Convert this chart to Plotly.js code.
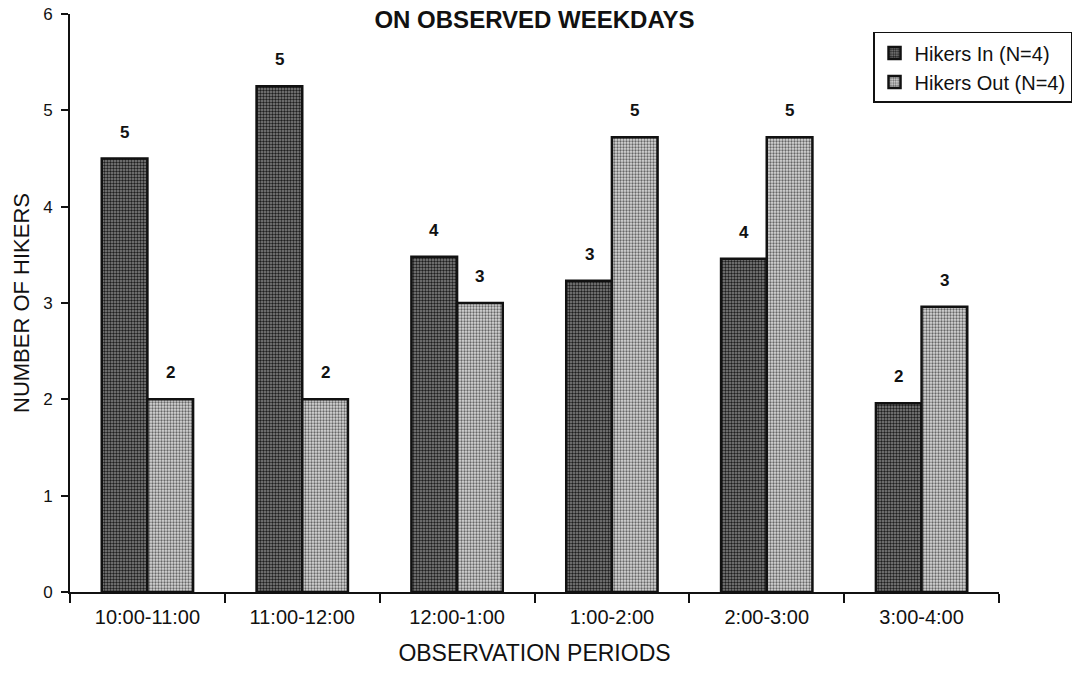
<!DOCTYPE html>
<html>
<head>
<meta charset="utf-8">
<script src="https://cdn.plot.ly/plotly-3.0.1.min.js"></script>
<style>
  html, body { margin: 0; padding: 0; background: #fff; }
  #chart { width: 1085px; height: 676px; }
</style>
</head>
<body>
<div id="chart"></div>
<script>
// ---- data ----
const periods = ["10:00-11:00", "11:00-12:00", "12:00-1:00", "1:00-2:00", "2:00-3:00", "3:00-4:00"];
const hikersIn = [4.5, 5.25, 3.48, 3.23, 3.46, 1.96];
const hikersOut = [2.0, 2.0, 3.0, 4.72, 4.72, 2.96];
const labelsIn = ["5", "5", "4", "3", "4", "2"];
const labelsOut = ["2", "2", "3", "5", "5", "3"];
const yTicks = [0, 1, 2, 3, 4, 5, 6];

const FONT = "Liberation Sans, Arial, sans-serif";

const traceIn = {
  type: "bar",
  name: "Hikers In (N=4)",
  x: periods,
  y: hikersIn,
  marker: {
    color: "#555555",
    line: { color: "#111", width: 2.5 },
    pattern: { shape: ".", fillmode: "replace", bgcolor: "#858585", fgcolor: "#1e1e1e", size: 3, solidity: 0.5 }
  },
  hoverinfo: "x+y"
};
const traceOut = {
  type: "bar",
  name: "Hikers Out (N=4)",
  x: periods,
  y: hikersOut,
  marker: {
    color: "#aaaaaa",
    line: { color: "#111", width: 2.5 },
    pattern: { shape: ".", fillmode: "replace", bgcolor: "#d8d8d8", fgcolor: "#666666", size: 3, solidity: 0.45 }
  },
  hoverinfo: "x+y"
};

// label annotations anchored to bars through the axis scales
const plotW = 1085 - 70 - 86;
const catW = plotW / periods.length;
const bargap = 0.41;
const half = catW * (1 - bargap) / 4;
const annotations = [];
periods.forEach((p, i) => {
  annotations.push({ x: p, y: hikersIn[i], xref: "x", yref: "y", text: labelsIn[i], showarrow: false,
    xshift: -half, yshift: 15, yanchor: "bottom", font: { family: FONT, size: 17, color: "#111", weight: "bold" } });
  annotations.push({ x: p, y: hikersOut[i], xref: "x", yref: "y", text: labelsOut[i], showarrow: false,
    xshift: half, yshift: 15, yanchor: "bottom", font: { family: FONT, size: 17, color: "#111", weight: "bold" } });
});

const layout = {
  width: 1085,
  height: 676,
  margin: { l: 70, r: 86, t: 14, b: 84, autoexpand: false },
  paper_bgcolor: "#ffffff",
  plot_bgcolor: "#ffffff",
  font: { family: FONT, color: "#111" },
  barmode: "group",
  bargap: bargap,
  bargroupgap: 0,
  title: {
    text: "<b>ON OBSERVED WEEKDAYS</b>",
    font: { family: FONT, size: 24, color: "#111" },
    x: 0.5, xref: "paper", xanchor: "center",
    y: 1 - 20 / 676, yref: "container", yanchor: "middle"
  },
  xaxis: {
    type: "category",
    showline: true, linecolor: "#111", linewidth: 2,
    ticks: "outside", tickson: "boundaries", ticklen: 9, tickcolor: "#111", tickwidth: 1.5,
    tickfont: { family: FONT, size: 20, color: "#111" },
    ticklabelstandoff: 6,
    showgrid: false, zeroline: false,
    title: { text: "OBSERVATION PERIODS", font: { family: FONT, size: 23, color: "#111" }, standoff: 18 }
  },
  yaxis: {
    range: [0, 6],
    tickvals: yTicks,
    ticktext: yTicks.map(String),
    showline: true, linecolor: "#111", linewidth: 2,
    ticks: "outside", ticklen: 7, tickcolor: "#111", tickwidth: 1.5,
    tickfont: { family: FONT, size: 17, color: "#111" },
    ticklabelstandoff: 5,
    showgrid: false, zeroline: false,
    title: { text: "NUMBER OF HIKERS", font: { family: FONT, size: 22, color: "#111" }, standoff: 7 }
  },
  legend: {
    x: 0.8644, y: 0.969, xanchor: "left", yanchor: "top",
    bgcolor: "#ffffff", bordercolor: "#111", borderwidth: 1.5,
    font: { family: FONT, size: 20, color: "#111" },
    itemwidth: 30, tracegroupgap: 0
  },
  annotations: annotations,
  showlegend: true
};

Plotly.newPlot("chart", [traceIn, traceOut], layout, { displayModeBar: false, staticPlot: false });
</script>
</body>
</html>
